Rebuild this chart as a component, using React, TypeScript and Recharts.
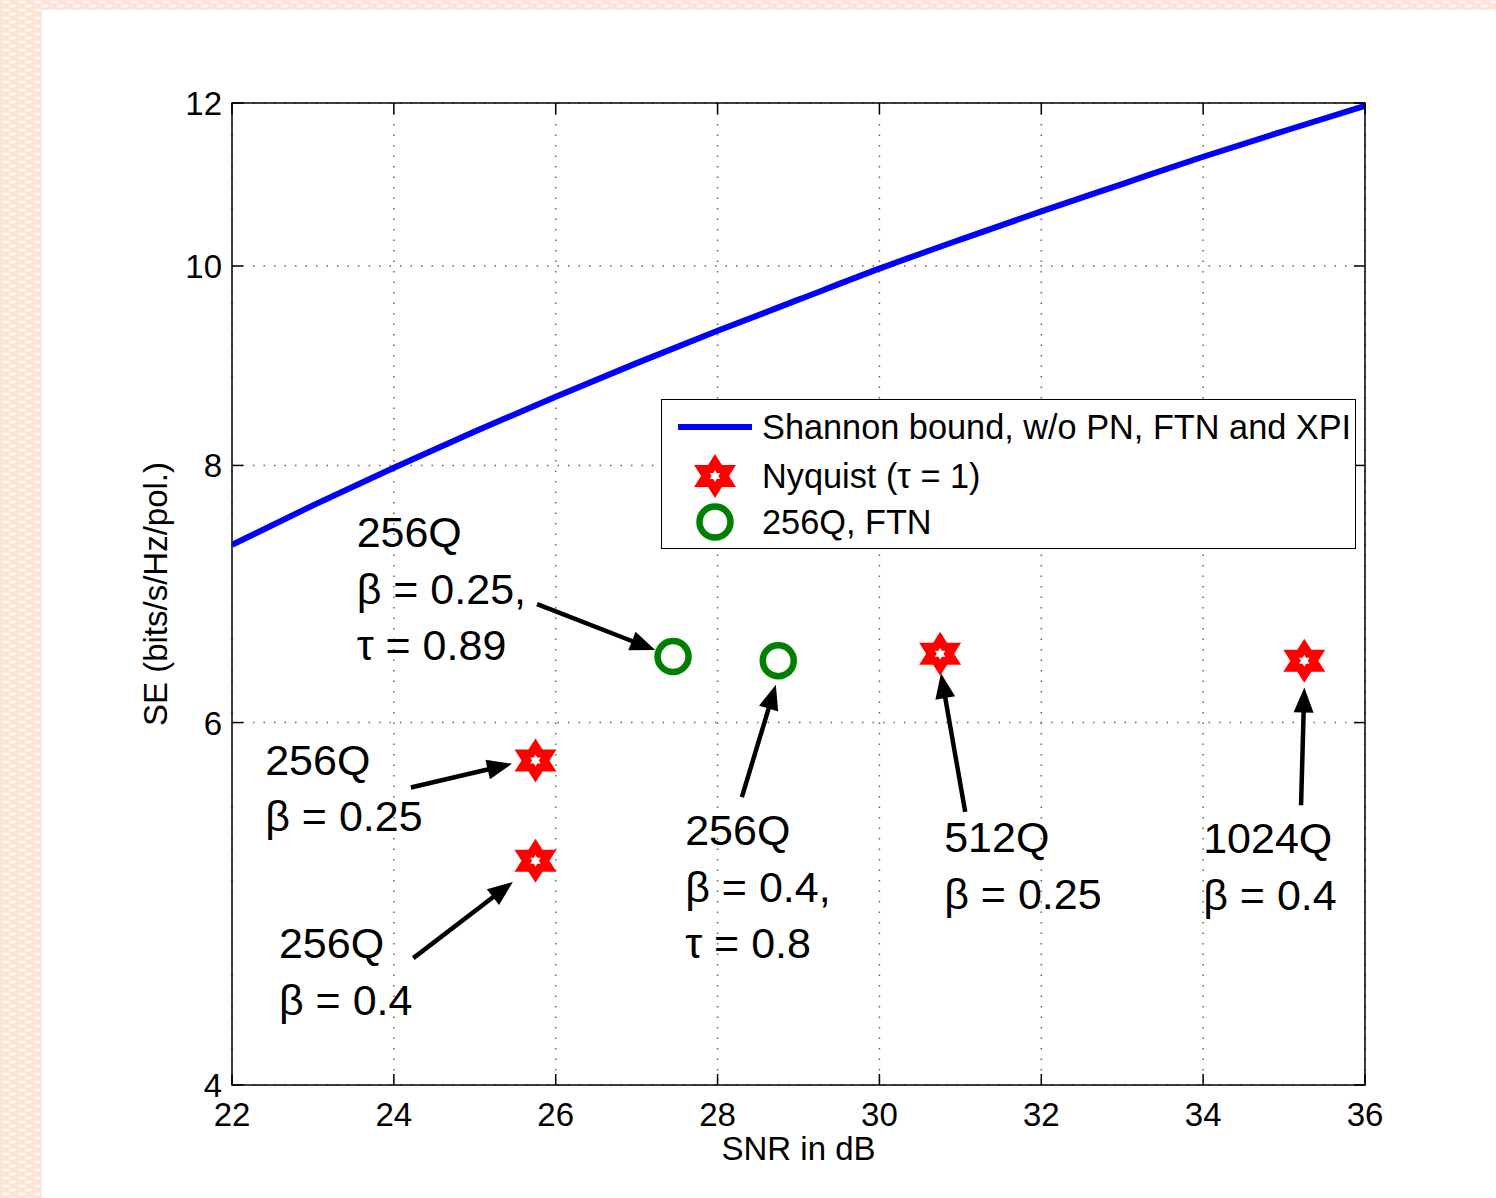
import React from 'react';
import {
  ComposedChart,
  Line,
  Scatter,
  XAxis,
  YAxis,
  CartesianGrid,
  ReferenceArea,
  ReferenceLine,
  ReferenceDot,
  Legend,
} from 'recharts';

// Shannon bound, one point per dB
const snrDb = [22, 23, 24, 25, 26, 27, 28, 29, 30, 31, 32, 33, 34, 35, 36];
const shannonSE = [7.32, 7.65, 7.98, 8.31, 8.64, 8.97, 9.3, 9.63, 9.97, 10.3, 10.63, 10.96, 11.3, 11.63, 11.96];

// Nyquist (tau = 1) points
const nyquistSNR = [25.75, 25.75, 30.75, 35.25];
const nyquistSE = [5.75, 5.14, 6.48, 6.43];

// 256Q FTN points
const ftnSNR = [27.45, 28.75];
const ftnSE = [6.46, 6.43];

const xTicks = [22, 24, 26, 28, 30, 32, 34, 36];
const yTicks = [4, 6, 8, 10, 12];

// annotations: text lines, anchor (left edge / first baseline), arrow tail and head
const noteLines = [
  ['256Q', 'β = 0.25,', 'τ = 0.89'],
  ['256Q', 'β = 0.25'],
  ['256Q', 'β = 0.4'],
  ['256Q', 'β = 0.4,', 'τ = 0.8'],
  ['512Q', 'β = 0.25'],
  ['1024Q', 'β = 0.4'],
];
const noteAt = [
  [23.54, 7.3],
  [22.41, 5.66],
  [22.58, 4.61],
  [27.6, 5.23],
  [30.8, 5.19],
  [34.0, 5.185],
];
const arrowFrom = [
  [25.77, 6.85],
  [24.21, 5.58],
  [24.24, 4.61],
  [28.3, 5.52],
  [31.06, 5.43],
  [35.21, 5.47],
];
const arrowTo = [
  [27.23, 6.507],
  [25.46, 5.73],
  [25.47, 5.02],
  [28.72, 6.26],
  [30.76, 6.34],
  [35.25, 6.24],
];

const shannonData = snrDb.map((x, i) => ({ x, y: shannonSE[i] }));
const nyquistData = nyquistSNR.map((x, i) => ({ x, y: nyquistSE[i] }));
const ftnData = ftnSNR.map((x, i) => ({ x, y: ftnSE[i] }));

const W = 1496;
const H = 1198;
const M = { top: 103, right: 131, bottom: 33, left: 152 };
const Y_AXIS_W = 80;
const X_AXIS_H = 80;
const PLOT_TOP = M.top;
const PLOT_BOTTOM = H - M.bottom - X_AXIS_H;
const PLOT_LEFT = M.left + Y_AXIS_W;
const PLOT_RIGHT = W - M.right;
const TICK_LEN = 11;

const FONT = '"Liberation Sans", Arial, Helvetica, sans-serif';

const hexagram = (cx: number, cy: number, R: number, sx = 1) => {
  const r = R / Math.sqrt(3);
  const pts: string[] = [];
  for (let i = 0; i < 12; i++) {
    const a = ((-90 + i * 30) * Math.PI) / 180;
    const rad = i % 2 === 0 ? R : r;
    pts.push(`${cx + sx * rad * Math.cos(a)},${cy + rad * Math.sin(a)}`);
  }
  return pts.join(' ');
};

const StarMark = ({ cx, cy }: any) => (
  <g>
    <polygon points={hexagram(cx, cy, 22, 1.1)} fill="#ff0000" />
    <polygon points={hexagram(cx, cy, 6)} fill="#ffffff" />
  </g>
);

const RingMark = ({ cx, cy }: any) => (
  <circle cx={cx} cy={cy} r={15.5} fill="none" stroke="#008000" strokeWidth={6.5} />
);

const XTick = ({ x, payload }: any) => (
  <g>
    <line x1={x} x2={x} y1={PLOT_BOTTOM} y2={PLOT_BOTTOM - TICK_LEN} stroke="#000" strokeWidth={1.5} />
    <line x1={x} x2={x} y1={PLOT_TOP} y2={PLOT_TOP + TICK_LEN} stroke="#000" strokeWidth={1.5} />
    <text x={x} y={PLOT_BOTTOM + 41} textAnchor="middle" fontSize={33} fontFamily={FONT} fill="#000">
      {payload.value}
    </text>
  </g>
);

const YTick = ({ y, payload }: any) => (
  <g>
    <line x1={PLOT_LEFT} x2={PLOT_LEFT + TICK_LEN} y1={y} y2={y} stroke="#000" strokeWidth={1.5} />
    <line x1={PLOT_RIGHT} x2={PLOT_RIGHT - TICK_LEN} y1={y} y2={y} stroke="#000" strokeWidth={1.5} />
    <text x={PLOT_LEFT - 10} y={y + 12} textAnchor="end" fontSize={33} fontFamily={FONT} fill="#000">
      {payload.value}
    </text>
  </g>
);

const Arrow = (props: any) => {
  const { x1, y1, x2, y2 } = props;
  const dx = x2 - x1;
  const dy = y2 - y1;
  const len = Math.sqrt(dx * dx + dy * dy) || 1;
  const ux = dx / len;
  const uy = dy / len;
  const headL = 25;
  const headW = 10;
  const bx = x2 - ux * headL;
  const by = y2 - uy * headL;
  return (
    <g>
      <line x1={x1} y1={y1} x2={bx + ux * 2} y2={by + uy * 2} stroke="#000" strokeWidth={4.5} />
      <polygon
        points={`${x2},${y2} ${bx - uy * headW},${by + ux * headW} ${bx + uy * headW},${by - ux * headW}`}
        fill="#000"
      />
    </g>
  );
};

const noteShape = (lines: string[]) => (props: any) => {
  const { cx, cy } = props;
  return (
    <text fontSize={43} fontFamily={FONT} fill="#000">
      {lines.map((t, i) => (
        <tspan key={i} x={cx} y={cy + i * 56.5}>
          {t}
        </tspan>
      ))}
    </text>
  );
};

const LegendBox = () => (
  <div
    style={{
      boxSizing: 'border-box',
      width: 695,
      height: 150,
      border: '1.5px solid #000',
      background: '#fff',
      fontFamily: FONT,
      fontSize: 34,
      color: '#000',
      position: 'relative',
    }}
  >
    <svg width={695} height={150} style={{ position: 'absolute', left: -1.5, top: -1.5 }}>
      <line x1={17} x2={91} y1={28} y2={28} stroke="#0000ff" strokeWidth={6} />
      <StarMark cx={54} cy={77} />
      <RingMark cx={54} cy={123} />
      <text x={101} y={40} fontSize={34.3} fontFamily={FONT}>Shannon bound, w/o PN, FTN and XPI</text>
      <text x={101} y={89} fontSize={34.3} fontFamily={FONT}>Nyquist (τ = 1)</text>
      <text x={101} y={135} fontSize={34.3} fontFamily={FONT}>256Q, FTN</text>
    </svg>
  </div>
);

const patternSvg =
  "data:image/svg+xml;utf8," +
  encodeURIComponent(
    "<svg xmlns='http://www.w3.org/2000/svg' width='16' height='8'>" +
      "<rect width='16' height='8' fill='#fce4d6'/>" +
      "<rect x='2' y='1' width='7' height='2.5' fill='#fff8f3'/>" +
      "<rect x='10' y='5' width='7' height='2.5' fill='#fff8f3'/>" +
      '</svg>'
  );

export default function App() {
  return (
    <div
      style={{
        position: 'absolute',
        left: 0,
        top: 0,
        width: W,
        height: H,
        backgroundImage: `url("${patternSvg}")`,
        overflow: 'hidden',
      }}
    >
      <div style={{ position: 'absolute', left: 42, top: 10, width: W - 42, height: H - 10, background: '#fff' }} />
      <div style={{ position: 'absolute', left: 0, top: 0 }}>
        <ComposedChart width={W} height={H} margin={M}>
          <CartesianGrid stroke="#666" strokeWidth={1.5} strokeDasharray="1.5 9" />
          <XAxis
            type="number"
            dataKey="x"
            domain={[22, 36]}
            ticks={xTicks}
            height={X_AXIS_H}
            axisLine={false}
            tickLine={false}
            tick={<XTick />}
            allowDataOverflow
            label={{
              content: () => (
                <text
                  x={(PLOT_LEFT + PLOT_RIGHT) / 2}
                  y={PLOT_BOTTOM + 75}
                  textAnchor="middle"
                  fontSize={33}
                  fontFamily={FONT}
                  fill="#000"
                >
                  SNR in dB
                </text>
              ),
            }}
          />
          <YAxis
            type="number"
            dataKey="y"
            scale="log"
            domain={[4, 12]}
            ticks={yTicks}
            width={Y_AXIS_W}
            axisLine={false}
            tickLine={false}
            tick={<YTick />}
            allowDataOverflow
            label={{
              content: () => (
                <text
                  x={167}
                  y={(PLOT_TOP + PLOT_BOTTOM) / 2}
                  transform={`rotate(-90, 167, ${(PLOT_TOP + PLOT_BOTTOM) / 2})`}
                  textAnchor="middle"
                  fontSize={33}
                  fontFamily={FONT}
                  fill="#000"
                >
                  SE (bits/s/Hz/pol.)
                </text>
              ),
            }}
          />
          <ReferenceArea x1={22} x2={36} y1={4} y2={12} fill="none" fillOpacity={0} stroke="#000" strokeWidth={1.5} ifOverflow="visible" />
          <Line
            data={shannonData}
            dataKey="y"
            type="monotone"
            stroke="#0000ff"
            strokeWidth={6}
            dot={false}
            isAnimationActive={false}
            legendType="none"
          />
          <Scatter data={nyquistData} dataKey="y" shape={<StarMark />} isAnimationActive={false} />
          <Scatter data={ftnData} dataKey="y" shape={<RingMark />} isAnimationActive={false} />
          {arrowFrom.map((f, i) => (
            <ReferenceLine
              key={`a${i}`}
              segment={[
                { x: f[0], y: f[1] },
                { x: arrowTo[i][0], y: arrowTo[i][1] },
              ]}
              shape={Arrow}
              ifOverflow="visible"
            />
          ))}
          {noteAt.map((p, i) => (
            <ReferenceDot key={`n${i}`} x={p[0]} y={p[1]} r={0} shape={noteShape(noteLines[i])} ifOverflow="visible" />
          ))}
          <Legend
            layout="horizontal"
            verticalAlign="middle"
            align="center"
            wrapperStyle={{ left: 661, top: 399, width: 695, height: 150 }}
            content={() => <LegendBox />}
          />
        </ComposedChart>
      </div>
    </div>
  );
}
